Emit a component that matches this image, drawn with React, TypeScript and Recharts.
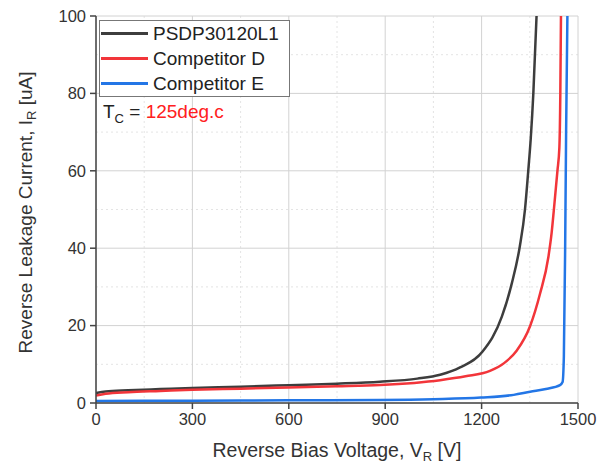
import { CartesianGrid, Label, Line, LineChart, XAxis, YAxis } from 'recharts';

const xTicks = [0, 300, 600, 900, 1200, 1500];
const xMinor = [150, 450, 750, 1050, 1350];
const yTicks = [0, 20, 40, 60, 80, 100];
const yMinor = [10, 30, 50, 70, 90];

const psdpV = [0, 30, 100, 200, 300, 450, 600, 750, 884, 1000, 1071, 1133, 1203, 1263, 1294, 1319, 1335, 1345, 1353, 1361, 1371];
const psdpI = [2.6, 3.0, 3.3, 3.6, 3.9, 4.2, 4.6, 5.0, 5.5, 6.3, 7.3, 9.2, 13.3, 22.3, 30.9, 40.5, 50, 59.8, 68.4, 80, 100];

const compDV = [0, 30, 100, 200, 300, 450, 600, 750, 884, 1071, 1150, 1226, 1270, 1309, 1351, 1382, 1408, 1418, 1425, 1436, 1442, 1445, 1447];
const compDI = [1.9, 2.4, 2.8, 3.1, 3.4, 3.7, 4.0, 4.3, 4.65, 5.9, 6.9, 8.3, 10.3, 13.5, 19.9, 28.3, 37.8, 44, 50, 60, 66, 80, 100];

const compEV = [0, 300, 600, 884, 1050, 1198, 1300, 1351, 1400, 1444, 1452, 1456, 1460, 1463, 1467];
const compEI = [0.5, 0.6, 0.7, 0.8, 1.0, 1.4, 2.1, 2.9, 3.6, 4.6, 5.4, 12, 40, 70, 100];

const seriesNames = ['PSDP30120L1', 'Competitor D', 'Competitor E'];
const colors = ['#3d3d3d', '#f2353a', '#2376e6'];

const toPoints = (v: number[], i: number[]) => v.map((x, k) => ({ v: x, i: i[k] }));
const series = [toPoints(psdpV, psdpI), toPoints(compDV, compDI), toPoints(compEV, compEI)];

const font = '"Liberation Sans", Arial, sans-serif';
const axisColor = '#444444';
const tick = { fill: '#333333', fontSize: 16.5, fontFamily: font };

function XTitle({ viewBox }: any) {
  const cx = viewBox.x + viewBox.width / 2;
  return (
    <text x={cx} y={viewBox.y + 54} textAnchor="middle" fontSize={19.5} fontFamily={font} fill="#333">
      Reverse Bias Voltage, V<tspan dy={4} fontSize={13}>R</tspan>
      <tspan dy={-4}> [V]</tspan>
    </text>
  );
}

function YTitle({ viewBox }: any) {
  const cy = viewBox.y + viewBox.height / 2 + 3;
  const cx = 32;
  return (
    <text x={cx} y={cy} transform={`rotate(-90 ${cx} ${cy})`} textAnchor="middle" fontSize={19} fontFamily={font} fill="#333">
      Reverse Leakage Current, I<tspan dy={4} fontSize={13}>R</tspan>
      <tspan dy={-4}> [uA]</tspan>
    </text>
  );
}

function LegendBox() {
  return (
    <div style={{ position: 'absolute', left: 99, top: 20, fontFamily: font, color: '#222' }}>
      <div style={{ border: '1px solid #777', background: '#fff', padding: '0 0 0 1px', width: 188, boxSizing: 'content-box' }}>
        {seriesNames.map((name, k) => (
          <div key={name} style={{ display: 'flex', alignItems: 'center', height: 25, fontSize: 19, whiteSpace: 'nowrap' }}>
            <span style={{ display: 'inline-block', width: 47, height: 2.5, background: colors[k], marginRight: 5 }} />
            {name}
          </div>
        ))}
      </div>
      <div style={{ fontSize: 19, marginTop: 4, marginLeft: 4, whiteSpace: 'nowrap' }}>
        T<sub style={{ fontSize: 13 }}>C</sub> = <span style={{ color: '#ff2020' }}>125deg.c</span>
      </div>
    </div>
  );
}

export default function App() {
  return (
    <div style={{ position: 'absolute', left: 0, top: 0, width: 603, height: 465, background: '#fff' }}>
      <LineChart width={603} height={465} margin={{ top: 16, right: 25, left: 0, bottom: 0 }}>
        <CartesianGrid xAxisId="b" yAxisId="l" stroke="#e4e4e4" strokeDasharray="2 3" horizontalValues={yMinor} verticalValues={xMinor} />
        <CartesianGrid xAxisId="b" yAxisId="l" stroke="#d2d2d2" horizontalValues={yTicks} verticalValues={xTicks} />
        <XAxis
          xAxisId="b"
          type="number"
          dataKey="v"
          domain={[0, 1500]}
          ticks={xTicks}
          height={62}
          tick={tick}
          tickSize={6}
          tickMargin={4}
          stroke={axisColor}
          strokeWidth={1.5}
          allowDataOverflow
        >
          <Label content={XTitle} />
        </XAxis>
        <XAxis xAxisId="t" orientation="top" type="number" domain={[0, 1500]} height={0} tick={false} tickLine={false} stroke={axisColor} strokeWidth={1.5} />
        <YAxis
          yAxisId="l"
          type="number"
          domain={[0, 100]}
          ticks={yTicks}
          width={96}
          tick={tick}
          tickSize={6}
          tickMargin={4}
          stroke={axisColor}
          strokeWidth={1.5}
          allowDataOverflow
        >
          <Label content={YTitle} />
        </YAxis>
        <YAxis yAxisId="r" orientation="right" type="number" domain={[0, 100]} width={0} tick={false} tickLine={false} stroke={axisColor} strokeWidth={1.5} />
        {series.map((d, k) => (
          <Line
            key={seriesNames[k]}
            xAxisId="b"
            yAxisId="l"
            data={d}
            dataKey="i"
            name={seriesNames[k]}
            type="monotone"
            stroke={colors[k]}
            strokeWidth={2.5}
            dot={false}
            isAnimationActive={false}
          />
        ))}
      </LineChart>
      <LegendBox />
    </div>
  );
}
